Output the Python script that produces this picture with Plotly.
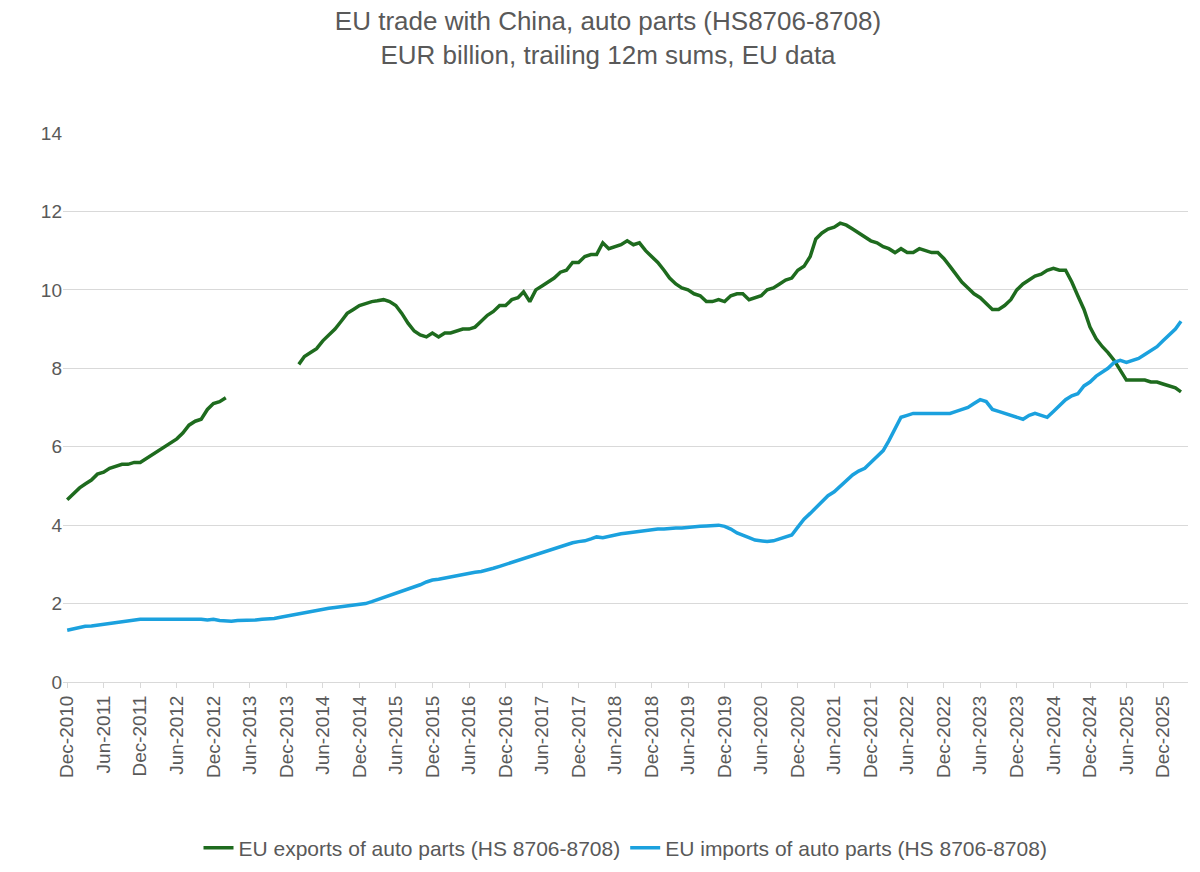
import pandas as pd
import plotly.graph_objects as go

# monthly, Dec-2010 .. Mar-2026
months = pd.date_range('2010-12-01', '2026-03-01', freq='MS')

exports = (
    [4.65]
    + [4.8, 4.95, 5.05, 5.15, 5.3, 5.35, 5.45, 5.5, 5.55, 5.55, 5.6, 5.6]
    + [5.7, 5.8, 5.9, 6.0, 6.1, 6.2, 6.35, 6.55, 6.65, 6.7, 6.95, 7.1]
    + [7.15, 7.25, None, None, None, None, None, None, None, None, None, None]
    + [None, 8.1, 8.3, 8.4, 8.5, 8.7, 8.85, 9.0, 9.2, 9.4, 9.5, 9.6]
    + [9.65, 9.7, 9.72, 9.75, 9.7, 9.6, 9.4, 9.15, 8.95, 8.85, 8.8, 8.9]
    + [8.8, 8.9, 8.9, 8.95, 9.0, 9.0, 9.05, 9.2, 9.35, 9.45, 9.6, 9.6]
    + [9.75, 9.8, 9.95, 9.7, 10.0, 10.1, 10.2, 10.3, 10.45, 10.5, 10.7, 10.7]
    + [10.85, 10.9, 10.9, 11.2, 11.05, 11.1, 11.15, 11.25, 11.15, 11.2, 11.0, 10.85]
    + [10.7, 10.5, 10.3, 10.15, 10.05, 10.0, 9.9, 9.85, 9.7, 9.7, 9.75, 9.7]
    + [9.85, 9.9, 9.9, 9.75, 9.8, 9.85, 10.0, 10.05, 10.15, 10.25, 10.3, 10.5]
    + [10.6, 10.85, 11.3, 11.45, 11.55, 11.6, 11.7, 11.65, 11.55, 11.45, 11.35, 11.25]
    + [11.2, 11.1, 11.05, 10.95, 11.05, 10.95, 10.95, 11.05, 11.0, 10.95, 10.95, 10.8]
    + [10.6, 10.4, 10.2, 10.05, 9.9, 9.8, 9.65, 9.5, 9.5, 9.6, 9.75, 10.0]
    + [10.15, 10.25, 10.35, 10.4, 10.5, 10.55, 10.5, 10.5, 10.2, 9.85, 9.5, 9.05]
    + [8.75, 8.55, 8.4, 8.2, 7.95, 7.7, 7.7, 7.7, 7.7, 7.65, 7.65, 7.6]
    + [7.55, 7.5, 7.4]
)

imports = (
    [1.32]
    + [1.35, 1.4, 1.42, 1.43, 1.45, 1.48, 1.5, 1.52, 1.55, 1.57, 1.58, 1.6]
    + [1.6, 1.6, 1.6, 1.62, 1.62, 1.62, 1.62, 1.62, 1.6, 1.6, 1.58, 1.6]
    + [1.57, 1.55, 1.55, 1.57, 1.57, 1.58, 1.58, 1.6, 1.6, 1.62, 1.65, 1.68]
    + [1.72, 1.75, 1.78, 1.8, 1.82, 1.85, 1.88, 1.9, 1.92, 1.95, 1.97, 1.98]
    + [2.0, 2.05, 2.1, 2.15, 2.2, 2.25, 2.3, 2.35, 2.42, 2.48, 2.55, 2.6]
    + [2.62, 2.65, 2.7, 2.72, 2.75, 2.78, 2.8, 2.82, 2.85, 2.9, 2.95, 3.0]
    + [3.05, 3.1, 3.15, 3.2, 3.25, 3.3, 3.35, 3.4, 3.45, 3.5, 3.55, 3.58]
    + [3.6, 3.65, 3.7, 3.68, 3.72, 3.75, 3.78, 3.8, 3.82, 3.85, 3.88, 3.9]
    + [3.9, 3.9, 3.92, 3.93, 3.93, 3.95, 3.95, 3.97, 3.98, 3.98, 4.0, 3.97]
    + [3.9, 3.8, 3.75, 3.68, 3.62, 3.6, 3.58, 3.6, 3.65, 3.7, 3.75, 3.95]
    + [4.15, 4.3, 4.45, 4.6, 4.75, 4.85, 5.0, 5.15, 5.28, 5.38, 5.45, 5.6]
    + [5.75, 5.9, 6.15, 6.45, 6.75, 6.8, 6.85, 6.85, 6.85, 6.85, 6.85, 6.85]
    + [6.85, 6.9, 6.95, 7.0, 7.1, 7.2, 7.15, 6.95, 6.9, 6.85, 6.8, 6.75]
    + [6.7, 6.8, 6.85, 6.8, 6.75, 6.9, 7.05, 7.2, 7.3, 7.35, 7.55, 7.65]
    + [7.8, 7.9, 8.0, 8.15, 8.2, 8.15, 8.2, 8.25, 8.35, 8.45, 8.55, 8.7]
    + [8.85, 9.0, 9.2]
)

GREY = '#595959'

fig = go.Figure()
fig.add_trace(go.Scatter(
    x=months, y=exports, mode='lines', connectgaps=False,
    name='EU exports of auto parts (HS 8706-8708)',
    line=dict(color='#1E6B1E', width=3.5),
))
fig.add_trace(go.Scatter(
    x=months, y=imports, mode='lines',
    name='EU imports of auto parts (HS 8706-8708)',
    line=dict(color='#1BA1DE', width=3.5),
))

fig.update_layout(
    width=1200, height=872,
    font=dict(family='Liberation Sans, Arial', size=19, color=GREY),
    title=dict(
        text='EU trade with China, auto parts (HS8706-8708)<br>EUR billion, trailing 12m sums, EU data',
        x=0.5, xanchor='center', y=0.975, yanchor='top',
        font=dict(size=26, color=GREY),
    ),
    plot_bgcolor='white', paper_bgcolor='white',
    margin=dict(l=55, r=20, t=125, b=195),
    legend=dict(
        orientation='h', x=0.5, xanchor='center', y=-0.265, yanchor='top',
        font=dict(size=21, color=GREY),
    ),
    showlegend=True,
)
fig.update_xaxes(
    range=['2010-11-10', '2026-04-05'],
    tickformat='%b-%Y', dtick='M6', tick0='2010-12-01', tickangle=-90,
    showgrid=False, showline=True, linecolor='#d9d9d9', linewidth=1,
    ticks='outside', ticklen=5, tickcolor='#d9d9d9',
)
fig.update_yaxes(
    range=[0, 14], dtick=2, showgrid=True, gridcolor='#d9d9d9',
    zeroline=False, showline=False,
)

fig.write_html('out.html')
